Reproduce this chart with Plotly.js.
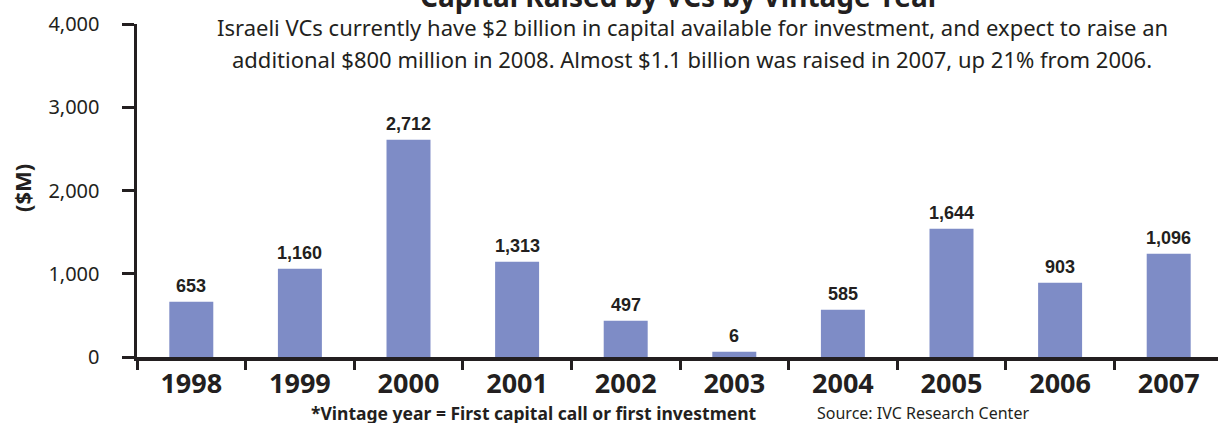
<!DOCTYPE html>
<html>
<head>
<meta charset="utf-8">
<script src="https://cdn.plot.ly/plotly-3.0.1.min.js"></script>
<style>html,body{margin:0;padding:0;background:#fff;}#chart{width:1218px;height:423px;}</style>
</head>
<body>
<div id="chart"></div>
<script>
// Data
const years = ['1998','1999','2000','2001','2002','2003','2004','2005','2006','2007'];
const barHeights = [664, 1061, 2610, 1145, 436, 64, 568, 1541, 893, 1241];
const barLabels = ['653','1,160','2,712','1,313','497','6','585','1,644','903','1,096'];
const yTickValues = [0, 1000, 2000, 3000, 4000];
const yTickLabels = ['0', '1,000', '2,000', '3,000', '4,000'];

const titleText = 'Capital Raised by VCs by Vintage Year';
const subtitleLines = [
  'Israeli VCs currently have $2 billion in capital available for investment, and expect to raise an',
  'additional $800 million in 2008. Almost $1.1 billion was raised in 2007, up 21% from 2006.'
];
const footnoteText = '*Vintage year = First capital call or first investment';
const sourceText = 'Source: IVC Research Center';
const yTitleText = '($M)';

const W = 1218, H = 423;
const L = 137, R = 0, T = 24, B = 66;
const plotW = W - L - R, plotH = H - T - B;
const catW = 108.6;
const px = p => (p - L) / plotW;   // pixel x -> paper x
const py = p => (H - B - p) / plotH; // pixel y -> paper y

const ink = '#231f20';
const sans = 'Noto Sans, Open Sans, sans-serif';
const arial = 'Liberation Sans, Arial, sans-serif';

const trace = {
  type: 'bar',
  x: years,
  y: barHeights,
  marker: {color: '#7e8cc6', line: {width: 0}},
  hoverinfo: 'skip'
};

const annotations = years.map((yr, i) => ({
  x: i, y: barHeights[i], xref: 'x', yref: 'y',
  text: '<b>' + barLabels[i] + '</b>',
  showarrow: false, xanchor: 'center', yanchor: 'middle', yshift: 16,
  font: {family: arial, size: 18, color: ink}
}));

annotations.push(
  {xref: 'paper', yref: 'paper', x: px(680), y: py(17), xanchor: 'center', yanchor: 'bottom',
   text: '<b>' + titleText + '</b>', showarrow: false,
   font: {family: sans, size: 28, color: ink}},
  {xref: 'paper', yref: 'paper', x: px(692), y: py(27), xanchor: 'center', yanchor: 'middle',
   text: subtitleLines[0], showarrow: false,
   font: {family: sans, size: 22, color: ink}},
  {xref: 'paper', yref: 'paper', x: px(692), y: py(59), xanchor: 'center', yanchor: 'middle',
   text: subtitleLines[1], showarrow: false,
   font: {family: sans, size: 22, color: ink}},
  {xref: 'paper', yref: 'paper', x: px(22), y: py(188), xanchor: 'center', yanchor: 'middle',
   text: '<b>' + yTitleText + '</b>', textangle: -90, showarrow: false,
   font: {family: sans, size: 22, color: ink}},
  {xref: 'paper', yref: 'paper', x: px(534), y: py(413), xanchor: 'center', yanchor: 'middle',
   text: '<b>' + footnoteText + '</b>', showarrow: false,
   font: {family: sans, size: 17.5, color: ink}},
  {xref: 'paper', yref: 'paper', x: px(815), y: py(413), xanchor: 'left', yanchor: 'middle',
   text: sourceText, showarrow: false,
   font: {family: sans, size: 16, color: ink}}
);

const layout = {
  width: W, height: H,
  margin: {l: L, r: R, t: T, b: B, pad: 0},
  paper_bgcolor: '#ffffff', plot_bgcolor: '#ffffff',
  showlegend: false,
  bargap: 0.595,
  xaxis: {
    type: 'category',
    range: [-0.5, -0.5 + plotW / catW],
    showline: true, linecolor: ink, linewidth: 3.5,
    ticks: 'outside', tickson: 'boundaries', ticklen: 9, tickwidth: 3, tickcolor: ink,
    showgrid: false, zeroline: false,
    tickfont: {family: sans, size: 27, color: ink, weight: 'bold'},
    ticklabelstandoff: 0,
    fixedrange: true
  },
  yaxis: {
    range: [0, 4000],
    tickvals: yTickValues, ticktext: yTickLabels,
    showline: true, linecolor: ink, linewidth: 3.5,
    ticks: 'outside', ticklen: 12, tickwidth: 3, tickcolor: ink,
    showgrid: false, zeroline: false,
    tickfont: {family: sans, size: 20, color: ink},
    ticklabelstandoff: 18,
    fixedrange: true
  },
  annotations: annotations
};

Plotly.newPlot('chart', [trace], layout, {displayModeBar: false, staticPlot: true});
</script>
</body>
</html>
